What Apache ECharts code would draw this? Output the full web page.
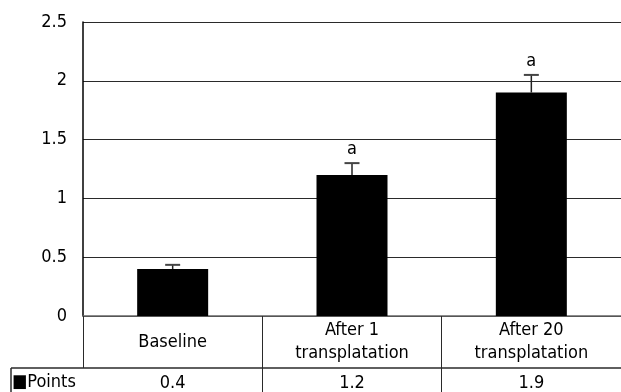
<!DOCTYPE html>
<html>
<head>
<meta charset="utf-8">
<script src="https://cdn.jsdelivr.net/npm/echarts@6/dist/echarts.min.js"></script>
<style>
  html, body { margin: 0; padding: 0; background: #fff; }
  #chart { width: 621px; height: 392px; }
</style>
</head>
<body>
<div id="chart"></div>
<script>
// Chart data
const categories = ['Baseline', 'After 1\ntransplatation', 'After 20\ntransplatation'];
const seriesName = 'Points';
const values = [0.4, 1.2, 1.9];
const errors = [0.035, 0.1, 0.15];
const marks = ['', 'a', 'a'];
const yMin = 0, yMax = 2.5, yStep = 0.5;

// Layout
const FONT_FAMILY = "'DejaVu Sans Condensed', 'Liberation Sans', sans-serif";
const FS = 18;
const G = { left: 83, top: 22, width: 541, height: 294 };
const ROW1 = 52;   // category label row height
const ROW2 = 30;   // data row height
const TABLE_LEFT = 11;
const LINE = '#2a2a2a';

const chart = echarts.init(document.getElementById('chart'), null, { renderer: 'canvas' });

const rowTop = G.top + G.height + ROW1;

chart.setOption({
  animation: false,
  backgroundColor: '#fff',
  grid: G,
  xAxis: [
    {
      type: 'category',
      data: categories,
      position: 'bottom',
      axisLine: { show: true, lineStyle: { color: '#666', width: 1.5 } },
      axisTick: { show: true, length: ROW1, lineStyle: { color: LINE, width: 1 } },
      axisLabel: {
        margin: ROW1 / 2, verticalAlign: 'middle', align: 'center',
        color: '#000', fontSize: FS, fontFamily: FONT_FAMILY, lineHeight: 23
      },
      splitLine: { show: false }
    },
    {
      type: 'category',
      data: values.map(v => v.toFixed(1)),
      position: 'bottom',
      offset: ROW1,
      axisLine: { show: false },
      axisTick: {
        show: true, length: ROW2, inside: false,
        interval: (idx) => idx !== 0,
        lineStyle: { color: LINE, width: 1 }
      },
      axisLabel: {
        margin: 15, verticalAlign: 'middle', align: 'center',
        color: '#000', fontSize: FS, fontFamily: FONT_FAMILY
      },
      splitLine: { show: false }
    }
  ],
  yAxis: {
    type: 'value',
    min: yMin, max: yMax, interval: yStep,
    axisLine: { show: true, lineStyle: { color: '#000', width: 1.5 } },
    axisTick: { show: false },
    axisLabel: {
      margin: 16, color: '#000', fontSize: FS, fontFamily: FONT_FAMILY,
      formatter: v => String(v)
    },
    splitLine: { show: true, lineStyle: { color: LINE, width: 1 } }
  },
  series: [
    {
      name: seriesName,
      type: 'bar',
      data: values,
      barWidth: 71,
      itemStyle: { color: '#000' },
      z: 2
    },
    {
      name: seriesName + ' error',
      type: 'custom',
      data: values.map((v, i) => [i, v, errors[i]]),
      z: 3,
      renderItem: (params, api) => {
        const i = params.dataIndex;
        const x = api.value(0), v = api.value(1), e = api.value(2);
        const hi = api.coord([x, v + e]);
        const base = api.coord([x, v]);
        const cap = 7.5;
        const children = [
          { type: 'line', shape: { x1: hi[0], y1: base[1], x2: hi[0], y2: hi[1] },
            style: { stroke: '#222', lineWidth: 1.5 } },
          { type: 'line', shape: { x1: hi[0] - cap, y1: hi[1], x2: hi[0] + cap, y2: hi[1] },
            style: { stroke: '#444', lineWidth: 2 } }
        ];
        if (marks[i]) {
          children.push({
            type: 'text',
            style: {
              text: marks[i], x: hi[0], y: hi[1] - 5,
              align: 'center', verticalAlign: 'bottom',
              fill: '#000', fontSize: FS, fontFamily: FONT_FAMILY
            }
          });
        }
        return { type: 'group', children };
      }
    }
  ],
  graphic: [
    // data-row top border and left border
    { type: 'line', shape: { x1: TABLE_LEFT, y1: rowTop, x2: G.left + G.width, y2: rowTop },
      style: { stroke: LINE, lineWidth: 1.5 }, z: 10 },
    { type: 'line', shape: { x1: TABLE_LEFT, y1: rowTop, x2: TABLE_LEFT, y2: rowTop + ROW2 },
      style: { stroke: LINE, lineWidth: 1.5 }, z: 10 },
    { type: 'text', left: TABLE_LEFT + 1, top: rowTop + 5,
      style: { text: '\u25A0' + seriesName, fill: '#000', fontSize: FS, fontFamily: FONT_FAMILY }, z: 10 }
  ]
});
</script>
</body>
</html>
